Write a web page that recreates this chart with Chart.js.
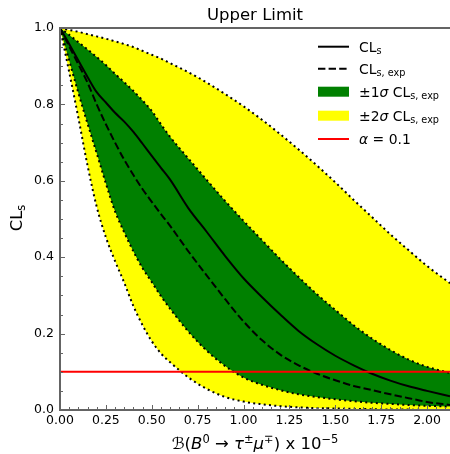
<!DOCTYPE html>
<html>
<head>
<meta charset="utf-8">
<script src="https://cdn.jsdelivr.net/npm/chart.js@4.4.1/dist/chart.umd.min.js"></script>
<style>
  body { margin: 0; background: #fff; }
  #wrap { width: 450px; height: 454px; }
</style>
</head>
<body>
<div id="wrap"><canvas id="myChart" width="450" height="454"></canvas></div>
<script>
// scan points (branching fraction, x 10^-5)
const xs = [0, 0.05, 0.1, 0.15, 0.2, 0.25, 0.3, 0.35, 0.4, 0.45, 0.5, 0.55, 0.6, 0.7, 0.8, 0.9,
            1.0, 1.1, 1.2, 1.3, 1.4, 1.5, 1.6, 1.7, 1.8, 1.9, 2.0, 2.125];

const upper2 = [1, 0.995, 0.99, 0.984, 0.978, 0.972, 0.965, 0.958, 0.95, 0.94, 0.93, 0.92, 0.908, 0.884, 0.857, 0.827,
                0.795, 0.76, 0.722, 0.682, 0.64, 0.596, 0.55, 0.505, 0.46, 0.418, 0.377, 0.332];
const upper1 = [1, 0.982, 0.963, 0.944, 0.924, 0.903, 0.88, 0.858, 0.835, 0.81, 0.783, 0.748, 0.715, 0.658, 0.602, 0.547,
                0.495, 0.445, 0.395, 0.348, 0.303, 0.262, 0.222, 0.187, 0.157, 0.132, 0.113, 0.097];
const observed = [1, 0.958, 0.915, 0.872, 0.832, 0.805, 0.778, 0.755, 0.728, 0.697, 0.665, 0.634, 0.603, 0.528, 0.466, 0.403,
                  0.345, 0.296, 0.25, 0.207, 0.172, 0.142, 0.117, 0.095, 0.077, 0.062, 0.05, 0.036];
const expected = [1, 0.952, 0.905, 0.857, 0.80, 0.748, 0.70, 0.655, 0.615, 0.578, 0.545, 0.513, 0.482, 0.415, 0.352, 0.29,
                  0.232, 0.183, 0.145, 0.117, 0.095, 0.078, 0.063, 0.052, 0.041, 0.031, 0.021, 0.013];
const lower1 = [1, 0.915, 0.83, 0.75, 0.672, 0.593, 0.52, 0.465, 0.415, 0.371, 0.335, 0.298, 0.265, 0.205, 0.155, 0.115,
                0.085, 0.066, 0.052, 0.041, 0.034, 0.028, 0.023, 0.019, 0.016, 0.013, 0.011, 0.009];
const lower2 = [1, 0.885, 0.765, 0.64, 0.532, 0.452, 0.39, 0.333, 0.272, 0.222, 0.18, 0.148, 0.125, 0.085, 0.055, 0.034,
                0.022, 0.015, 0.01, 0.007, 0.005, 0.004, 0.003, 0.002, 0.001, 0.001, 0, 0];
const alpha = 0.1;

const xTicks = [0, 0.25, 0.5, 0.75, 1.0, 1.25, 1.5, 1.75, 2.0];
const yTicks = [0, 0.2, 0.4, 0.6, 0.8, 1.0];
const xMax = 2.125;

function pts(ys) {
  return xs.map((x, i) => ({ x: x, y: ys[i] }));
}

const FONT = "'DejaVu Sans', sans-serif";
const SPINE = '#646464';

// draws a list of text pieces one after the other
function drawRich(ctx, x, y, parts, align) {
  let widths = parts.map(p => {
    ctx.font = (p.italic ? 'italic ' : '') + p.size + 'px ' + FONT;
    return ctx.measureText(p.t).width;
  });
  let total = widths.reduce((a, b) => a + b, 0);
  let cx = align === 'center' ? x - total / 2 : x;
  parts.forEach((p, i) => {
    ctx.font = (p.italic ? 'italic ' : '') + p.size + 'px ' + FONT;
    ctx.fillText(p.t, cx, y + (p.dy || 0));
    cx += widths[i];
  });
}

const BIG = 16.5, SUB = 11.5;   // title / axis labels
const LEG = 13.9, LSUB = 9.7;   // legend

const decorPlugin = {
  id: 'decor',
  afterDraw(chart) {
    const ctx = chart.ctx;
    const a = chart.chartArea;
    const xs_ = chart.scales.x, ys_ = chart.scales.y;
    ctx.save();

    // minor / major ticks pointing inward
    ctx.strokeStyle = SPINE;
    ctx.lineWidth = 1;
    for (let i = 0; i * 0.05 <= xMax + 1e-9; i++) {
      let px = Math.round(xs_.getPixelForValue(i * 0.05)) + 0.5;
      let len = i % 5 === 0 ? 5 : 3;
      ctx.beginPath();
      ctx.moveTo(px, a.bottom);
      ctx.lineTo(px, a.bottom - len);
      ctx.stroke();
    }
    for (let i = 0; i <= 20; i++) {
      let py = Math.round(ys_.getPixelForValue(i * 0.05)) + 0.5;
      let len = i % 4 === 0 ? 5 : 3;
      ctx.beginPath();
      ctx.moveTo(a.left, py);
      ctx.lineTo(a.left + len, py);
      ctx.stroke();
    }

    // spines
    ctx.strokeStyle = SPINE;
    ctx.lineWidth = 2;
    ctx.beginPath();
    ctx.moveTo(a.left, a.top);
    ctx.lineTo(a.right, a.top);
    ctx.moveTo(a.left, a.top - 1);
    ctx.lineTo(a.left, a.bottom + 1);
    ctx.moveTo(a.left, a.bottom);
    ctx.lineTo(a.right, a.bottom);
    ctx.stroke();

    ctx.fillStyle = '#000';
    ctx.textBaseline = 'alphabetic';

    // title
    ctx.font = BIG + 'px ' + FONT;
    ctx.textAlign = 'center';
    ctx.fillText('Upper Limit', (a.left + a.right) / 2, 19.5);
    ctx.textAlign = 'left';

    // x axis title
    drawRich(ctx, (a.left + a.right) / 2, 449, [
      { t: 'ℬ', size: BIG, italic: true },
      { t: '(', size: BIG },
      { t: 'B', size: BIG, italic: true },
      { t: '0', size: SUB, dy: -6.5 },
      { t: ' → ', size: BIG },
      { t: 'τ', size: BIG, italic: true },
      { t: '±', size: SUB, dy: -6.5 },
      { t: 'μ', size: BIG, italic: true },
      { t: '∓', size: SUB, dy: -6.5 },
      { t: ') x 10', size: BIG },
      { t: '−5', size: SUB, dy: -6.5 }
    ], 'center');

    // y axis title
    ctx.save();
    ctx.translate(22, 218);
    ctx.rotate(-Math.PI / 2);
    drawRich(ctx, 0, 0, [
      { t: 'CL', size: BIG },
      { t: 's', size: SUB, dy: 2.5 }
    ], 'center');
    ctx.restore();

    // legend
    const lx0 = 318, lx1 = 349, tx = 359;
    const rows = [46.7, 68.7, 91.7, 115.7, 139];
    ctx.lineWidth = 2;
    ctx.strokeStyle = '#000';
    ctx.setLineDash([]);
    ctx.beginPath(); ctx.moveTo(lx0, rows[0]); ctx.lineTo(lx1, rows[0]); ctx.stroke();
    ctx.setLineDash([7.4, 3.2]);
    ctx.beginPath(); ctx.moveTo(lx0, rows[1]); ctx.lineTo(lx1, rows[1]); ctx.stroke();
    ctx.setLineDash([]);
    ctx.fillStyle = '#008000';
    ctx.fillRect(lx0, rows[2] - 5, lx1 - lx0, 10);
    ctx.fillStyle = '#ffff00';
    ctx.fillRect(lx0, rows[3] - 5, lx1 - lx0, 10);
    ctx.strokeStyle = '#ff0000';
    ctx.beginPath(); ctx.moveTo(lx0, rows[4]); ctx.lineTo(lx1, rows[4]); ctx.stroke();

    ctx.fillStyle = '#000';
    const off = 5;
    drawRich(ctx, tx, rows[0] + off, [{ t: 'CL', size: LEG }, { t: 's', size: LSUB, dy: 2 }]);
    drawRich(ctx, tx, rows[1] + off, [{ t: 'CL', size: LEG }, { t: 's, exp', size: LSUB, dy: 2 }]);
    drawRich(ctx, tx, rows[2] + off, [{ t: '±1', size: LEG }, { t: 'σ', size: LEG, italic: true },
      { t: ' CL', size: LEG }, { t: 's, exp', size: LSUB, dy: 2 }]);
    drawRich(ctx, tx, rows[3] + off, [{ t: '±2', size: LEG }, { t: 'σ', size: LEG, italic: true },
      { t: ' CL', size: LEG }, { t: 's, exp', size: LSUB, dy: 2 }]);
    drawRich(ctx, tx, rows[4] + off, [{ t: 'α', size: LEG, italic: true }, { t: ' = 0.1', size: LEG }]);

    ctx.restore();
  }
};

const bandLine = {
  borderColor: '#000',
  borderWidth: 2,
  borderDash: [2, 3.3],
  borderCapStyle: 'butt',
  pointRadius: 0,
  cubicInterpolationMode: 'monotone'
};

const ctx = document.getElementById('myChart').getContext('2d');
const myChart = new Chart(ctx, {
  type: 'line',
  data: {
    datasets: [
      Object.assign({ label: '+2 sigma', data: pts(upper2), fill: '+1', backgroundColor: '#ffff00', order: 10 }, bandLine),
      Object.assign({ label: '-2 sigma', data: pts(lower2), fill: false, order: 9 }, bandLine),
      Object.assign({ label: '+1 sigma', data: pts(upper1), fill: '+1', backgroundColor: '#008000', order: 8 }, bandLine),
      Object.assign({ label: '-1 sigma', data: pts(lower1), fill: false, order: 7 }, bandLine),
      {
        label: 'CLs exp', data: pts(expected), borderColor: '#000', borderWidth: 2,
        borderDash: [7.4, 3.2], pointRadius: 0, fill: false, order: 3, cubicInterpolationMode: 'monotone'
      },
      {
        label: 'CLs', data: pts(observed), borderColor: '#000', borderWidth: 2,
        pointRadius: 0, fill: false, order: 2, cubicInterpolationMode: 'monotone'
      },
      {
        label: 'alpha', data: [{ x: 0, y: alpha }, { x: xMax, y: alpha }], borderColor: '#ff0000',
        borderWidth: 2, pointRadius: 0, fill: false, order: 1
      }
    ]
  },
  options: {
    responsive: false,
    animation: false,
    devicePixelRatio: 1,
    layout: { padding: { top: 28, left: 0, right: 0, bottom: 0 } },
    scales: {
      x: {
        type: 'linear',
        min: 0,
        max: xMax,
        afterFit: s => { s.height = 44; },
        afterBuildTicks: s => { s.ticks = xTicks.map(v => ({ value: v })); },
        grid: { display: false, drawTicks: false },
        border: { display: false },
        ticks: {
          padding: 3,
          maxRotation: 0,
          autoSkip: false,
          color: '#000',
          font: { family: 'DejaVu Sans', size: 12.5 },
          callback: v => v.toFixed(2)
        }
      },
      y: {
        min: 0,
        max: 1,
        afterFit: s => { s.width = 60; },
        afterBuildTicks: s => { s.ticks = yTicks.map(v => ({ value: v })); },
        grid: { display: false, drawTicks: false },
        border: { display: false },
        ticks: {
          padding: 6,
          color: '#000',
          font: { family: 'DejaVu Sans', size: 12.5 },
          callback: v => v.toFixed(1)
        }
      }
    },
    plugins: {
      legend: { display: false },
      tooltip: { enabled: false }
    }
  },
  plugins: [decorPlugin]
});
</script>
</body>
</html>
